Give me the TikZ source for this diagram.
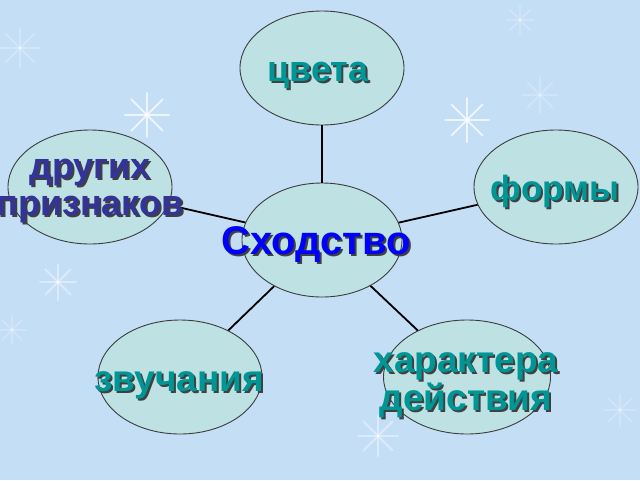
\documentclass[tikz,border=0pt]{standalone}
\usepackage{fontspec}
\setmainfont{Liberation Sans}
\usetikzlibrary{shapes.geometric}
\definecolor{bg}{RGB}{196,222,246}
\definecolor{efill}{RGB}{190,226,228}
\definecolor{eline}{RGB}{60,60,60}
\definecolor{teal}{RGB}{0,150,150}
\definecolor{navy}{RGB}{51,51,153}
\definecolor{pblue}{RGB}{0,0,255}
\newcommand{\shtext}[5]{% pos, color, size, baselineskip, text
  \node[txt, text=black!75, xshift=2pt, yshift=-2pt, font=\bfseries\fontsize{#3}{#4}\selectfont] at (#1) {#5};
  \node[txt, text=#2, font=\bfseries\fontsize{#3}{#4}\selectfont] at (#1) {#5};}
\begin{document}
\begin{tikzpicture}[x=1pt,y=-1pt,
  oval/.style={ellipse, draw=eline, line width=0.9pt, fill=efill, minimum width=164pt, minimum height=114pt, inner sep=0pt},
  link/.style={draw=black, line width=1.8pt},
  txt/.style={align=center, inner sep=0pt},
  flake/.style={white, line width=2pt, opacity=0.55, line cap=round}]
\useasboundingbox (0,0) rectangle (640,480);
\fill[bg] (0,0) rectangle (640,480);
% snowflakes
\foreach \x/\y/\r/\o in {147/115/22/0.7, 467/120/22/0.7, 58/282/18/0.4, 378/436/20/0.4, 20/48/20/0.25, 540/95/18/0.2, 12/330/14/0.2, 620/410/16/0.2, 520/20/14/0.2}{
  \foreach \a in {0,45,...,315}{
    \draw[flake, opacity=\o] (\x,\y) -- ++(\a:\r);
  }
}
% ellipses
\node[oval] (cv) at (322,68) {};
\node[oval] (dr) at (90,187) {};
\node[oval] (fo) at (556,187) {};
\node[oval, minimum width=160pt] (sx) at (322,240) {};
\node[oval] (zv) at (180,377) {};
\node[oval, minimum width=167pt] (ha) at (467,377) {};
% connectors
\draw[link] (sx) -- (cv);
\draw[link] (sx) -- (dr);
\draw[link] (sx) -- (fo);
\draw[link] (sx) -- (zv);
\draw[link] (sx) -- (ha);
% texts
\shtext{318,75}{teal}{36}{37}{цвета}
\shtext{90,191}{navy}{36}{37}{других\\признаков}
\shtext{555,191}{teal}{35}{37}{формы}
\shtext{316,245}{pblue}{40}{40}{Сходство}
\shtext{179,385}{teal}{37}{37}{звучания}
\shtext{466,385}{teal}{37}{38}{характера\\действия}
\end{tikzpicture}
\end{document}
